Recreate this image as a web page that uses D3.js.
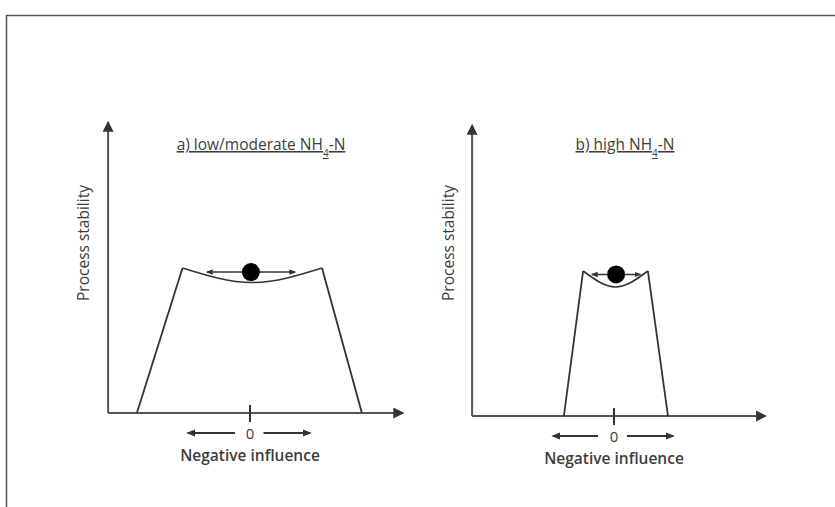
<!DOCTYPE html>
<html>
<head>
<meta charset="utf-8">
<script src="https://cdn.jsdelivr.net/npm/d3@7"></script>
<style>
    body { margin: 0; background: #fff; }
    svg text { font-family: "Open Sans", "DejaVu Sans", sans-serif; fill: #3d3d3d; }
</style>
</head>
<body>
<div id="chart"></div>
<script>
// Panel data (x = influence units, y = stability units)
var panelTitles = ["a) low/moderate NH", "b) high NH"];
var titleSub = "4";
var titleSuffix = "-N";
var yLabel = "Process stability";
var xLabel = "Negative influence";
var zeroTickLabel = "0";

var axisExtentX = [[-4.73, 5.07], [-4.73, 5.03]];
var axisTopY = [10, 10];
var trapBottom = [[-3.77, 3.73], [-1.67, 1.8]];
var trapTop = [[-2.25, 2.4], [-1.03, 1.13]];
var rimLevel = [5.0, 5.0];
var bowlDepth = [4.5, 4.45];
var ballPos = [[0.03, 4.86], [0.07, 4.88]];
var ballArrows = [[-1.43, 1.5], [-0.73, 0.87]];
var zeroArrows = [[-2.07, -0.5, 0.45, 2.0], [-2.03, -0.53, 0.43, 1.97]];

var width = 835, height = 507;
var ink = "#333";

var svg = d3.select("#chart").append("svg")
    .attr("width", width)
    .attr("height", height);

// Frame around the figure
svg.append("rect")
    .attr("x", 6.5).attr("y", 15.5)
    .attr("width", 900).attr("height", 600)
    .attr("fill", "none")
    .attr("stroke", "#555")
    .attr("stroke-width", 1.5);

// Arrow markers
var defs = svg.append("defs");
defs.append("marker")
    .attr("id", "head")
    .attr("viewBox", "0 0 10 10")
    .attr("refX", 8).attr("refY", 5)
    .attr("markerWidth", 5.5).attr("markerHeight", 5.5)
    .attr("orient", "auto-start-reverse")
    .append("path")
    .attr("d", "M0,0 L10,5 L0,10 z")
    .attr("fill", ink);
defs.append("marker")
    .attr("id", "smallhead")
    .attr("viewBox", "0 0 10 10")
    .attr("refX", 8).attr("refY", 5)
    .attr("markerWidth", 5).attr("markerHeight", 5)
    .attr("orient", "auto-start-reverse")
    .append("path")
    .attr("d", "M0,1 L10,5 L0,9 z")
    .attr("fill", ink);

// Pixel layout of the two panels
var layout = [
    {xRange: [100, 400], yRange: [413, 123], titleX: 261, yLabelX: 84},
    {xRange: [464, 764], yRange: [416, 126], titleX: 625, yLabelX: 449}
];

layout.forEach(function(l, i) {
    var x = d3.scaleLinear().domain([-5, 5]).range(l.xRange);
    var y = d3.scaleLinear().domain([0, 10]).range(l.yRange);
    var g = svg.append("g");
    var line = d3.line().x(function(d) { return x(d[0]); }).y(function(d) { return y(d[1]); });

    // Axes
    g.append("path")
        .attr("d", line([[axisExtentX[i][0], 0], [axisExtentX[i][0], axisTopY[i]]]))
        .attr("stroke", "#555").attr("stroke-width", 2).attr("fill", "none")
        .attr("marker-end", "url(#head)");
    g.append("path")
        .attr("d", line([[axisExtentX[i][0], 0], [axisExtentX[i][1], 0]]))
        .attr("stroke", "#555").attr("stroke-width", 2).attr("fill", "none")
        .attr("marker-end", "url(#head)");

    // zero tick
    g.append("line")
        .attr("x1", x(0)).attr("x2", x(0))
        .attr("y1", y(0) - 8).attr("y2", y(0) + 9)
        .attr("stroke", ink).attr("stroke-width", 2);

    // Trapezoid sides
    g.append("path")
        .attr("d", line([[trapBottom[i][0], 0], [trapTop[i][0], rimLevel[i]]]))
        .attr("stroke", ink).attr("stroke-width", 1.8).attr("fill", "none");
    g.append("path")
        .attr("d", line([[trapBottom[i][1], 0], [trapTop[i][1], rimLevel[i]]]))
        .attr("stroke", ink).attr("stroke-width", 1.8).attr("fill", "none");

    // Bowl
    var bowl = d3.line()
        .x(function(d) { return x(d[0]); })
        .y(function(d) { return y(d[1]); })
        .curve(d3.curveNatural);
    var mid = (trapTop[i][0] + trapTop[i][1]) / 2;
    g.append("path")
        .attr("d", bowl([[trapTop[i][0], rimLevel[i]], [mid, bowlDepth[i]], [trapTop[i][1], rimLevel[i]]]))
        .attr("stroke", ink).attr("stroke-width", 1.6).attr("fill", "none");

    // Double arrow through the ball
    g.append("path")
        .attr("d", line([[ballArrows[i][0], ballPos[i][1]], [ballArrows[i][1], ballPos[i][1]]]))
        .attr("stroke", ink).attr("stroke-width", 1.4).attr("fill", "none")
        .attr("marker-start", "url(#smallhead)")
        .attr("marker-end", "url(#smallhead)");

    // Ball
    g.append("circle")
        .attr("cx", x(ballPos[i][0]))
        .attr("cy", y(ballPos[i][1]))
        .attr("r", 9)
        .attr("fill", "#000");

    // Arrows under the x axis
    var za = zeroArrows[i];
    var arrowY = y(0) + 20;
    g.append("line")
        .attr("x1", x(za[1])).attr("x2", x(za[0]))
        .attr("y1", arrowY).attr("y2", arrowY)
        .attr("stroke", ink).attr("stroke-width", 1.8)
        .attr("marker-end", "url(#smallhead)");
    g.append("line")
        .attr("x1", x(za[2])).attr("x2", x(za[3]))
        .attr("y1", arrowY).attr("y2", arrowY)
        .attr("stroke", ink).attr("stroke-width", 1.8)
        .attr("marker-end", "url(#smallhead)");
    g.append("text")
        .attr("x", x(0)).attr("y", arrowY + 6)
        .attr("text-anchor", "middle")
        .style("font-size", "15px")
        .text(zeroTickLabel);

    // x label
    g.append("text")
        .attr("x", x(0)).attr("y", y(0) + 48)
        .attr("text-anchor", "middle")
        .style("font-size", "15.5px")
        .style("font-weight", "600")
        .text(xLabel);

    // y label
    g.append("text")
        .attr("transform", "translate(" + l.yLabelX + "," + 243 + ") rotate(-90)")
        .attr("text-anchor", "middle")
        .attr("dy", "0.35em")
        .style("font-size", "15.5px")
        .text(yLabel);

    // Title
    var t = g.append("text")
        .attr("x", l.titleX).attr("y", 150)
        .attr("text-anchor", "middle")
        .style("font-size", "15.5px")
        .style("text-decoration", "underline");
    t.append("tspan").text(panelTitles[i]);
    t.append("tspan").attr("baseline-shift", "sub").style("font-size", "10px").text(titleSub);
    t.append("tspan").text(titleSuffix);
});
</script>
</body>
</html>
